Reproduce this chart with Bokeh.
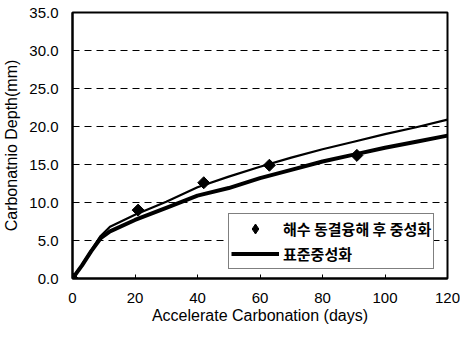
from bokeh.plotting import figure
from bokeh.models import Range1d, FixedTicker, Legend, LegendItem, NumeralTickFormatter
from bokeh.embed import file_html
from bokeh.resources import INLINE

# Observed points (freeze-thaw in seawater, then carbonation)
obs_days = [0, 21, 42, 63, 91]
obs_depth = [0.0, 9.0, 12.6, 14.9, 16.2]

# Curves
curve_days = [0, 3, 6, 9, 12, 20, 30, 40, 50, 60, 70, 80, 90, 100, 110, 120]
ft_curve = [0.0, 1.8, 3.7, 5.6, 6.8, 8.4, 10.1, 12.0, 13.4, 14.7, 15.9, 17.0, 18.0, 19.0, 19.9, 20.9]
std_curve = [0.0, 1.7, 3.6, 5.3, 6.2, 7.7, 9.3, 10.9, 11.9, 13.2, 14.3, 15.4, 16.3, 17.2, 18.0, 18.8]

x_ticks = [0, 20, 40, 60, 80, 100, 120]
y_ticks = [0, 5, 10, 15, 20, 25, 30, 35]

label_obs = "해수 동결융해 후 중성화"
label_std = "표준중성화"

FONT = "Liberation Sans"
KFONT = "Noto Sans CJK KR"

p = figure(width=460, height=330, output_backend="svg", toolbar_location=None,
           x_range=Range1d(0, 120), y_range=Range1d(0, 35),
           min_border_left=70, min_border_right=13, min_border_top=12, min_border_bottom=52,
           background_fill_color="white", border_fill_color="white")

p.outline_line_color = "black"
p.outline_line_width = 2
p.xgrid.grid_line_color = None
p.ygrid.grid_line_color = "black"
p.ygrid.grid_line_dash = "7 5"
p.ygrid.grid_line_width = 1
p.ygrid.ticker = FixedTicker(ticks=[5, 10, 15, 20, 25, 30])

p.xaxis.ticker = FixedTicker(ticks=x_ticks)
p.yaxis.ticker = FixedTicker(ticks=y_ticks)
p.yaxis.formatter = NumeralTickFormatter(format="0.0")

for ax in (p.xaxis, p.yaxis):
    ax.axis_line_color = "black"
    ax.axis_line_width = 2
    ax.major_tick_in = 4
    ax.major_tick_out = 0
    ax.minor_tick_line_color = None
    ax.major_tick_line_color = "black"
    ax.major_label_text_font = FONT
    ax.major_label_text_font_size = "15px"
    ax.major_label_text_color = "black"
    ax.axis_label_text_font = FONT
    ax.axis_label_text_font_size = "16px"
    ax.axis_label_text_font_style = "normal"
    ax.axis_label_text_color = "black"

p.xaxis.axis_label = "Accelerate Carbonation (days)"
p.yaxis.axis_label = "Carbonatnio Depth(mm)"
p.xaxis.major_label_standoff = 14
p.xaxis.axis_label_standoff = 1
p.yaxis.major_label_standoff = 14
p.yaxis.axis_label_standoff = 6

p.line(curve_days, ft_curve, line_color="black", line_width=2.2)
r_std = p.line(curve_days, std_curve, line_color="black", line_width=4)
p.scatter(obs_days, obs_depth, marker="square", angle=0.7853981634, size=8.5,
          fill_color="black", line_color="black")
# legend swatch for the observed-point marker (off-canvas, not a data mark)
r_leg = p.scatter(x=[float("nan")], y=[float("nan")], marker="diamond", size=13,
                  fill_color="black", line_color="black")

legend = Legend(items=[LegendItem(label=label_obs, renderers=[r_leg]),
                       LegendItem(label=label_std, renderers=[r_std])],
                location=(156, 9))
legend.label_text_font = KFONT
legend.label_text_font_size = "15px"
legend.label_text_font_style = "bold"
legend.label_text_color = "black"
legend.glyph_width = 48
legend.glyph_height = 25
legend.label_height = 25
legend.label_standoff = 4
legend.spacing = 0
legend.padding = 2
legend.margin = 0
legend.border_line_color = "black"
legend.border_line_width = 1
legend.background_fill_color = "white"
legend.background_fill_alpha = 1
p.add_layout(legend, "center")

open("out.html", "w").write(file_html(p, INLINE))
